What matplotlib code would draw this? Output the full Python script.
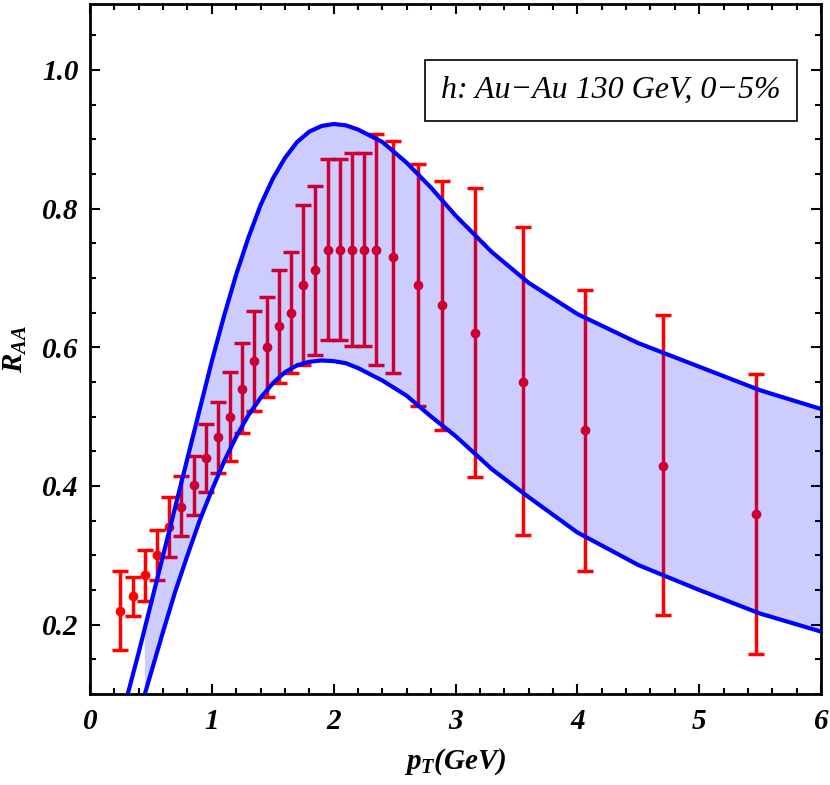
import numpy as np
import matplotlib
matplotlib.use("Agg")
import matplotlib.pyplot as plt

plt.rcParams['mathtext.fontset'] = 'custom'
plt.rcParams['mathtext.it'] = 'Liberation Serif:italic:bold'
plt.rcParams['mathtext.rm'] = 'Liberation Serif:italic:bold'
plt.rcParams['mathtext.bf'] = 'Liberation Serif:italic:bold'

pt = [0.25,0.35,0.45,0.55,0.65,0.75,0.85,0.95,1.05,1.15,1.25,1.35,1.45,1.55,1.65,1.75,1.85,1.95,2.05,2.15,2.25,2.35,2.49,2.69,2.89,3.16,3.55,4.06,4.70,5.47]
raa = [0.220,0.242,0.271,0.301,0.341,0.370,0.401,0.441,0.471,0.500,0.540,0.580,0.601,0.630,0.650,0.690,0.711,0.740,0.740,0.740,0.740,0.740,0.730,0.690,0.661,0.620,0.550,0.480,0.429,0.359]
err_hi = [0.278,0.269,0.307,0.337,0.384,0.414,0.443,0.490,0.521,0.565,0.606,0.653,0.673,0.711,0.737,0.805,0.833,0.871,0.871,0.880,0.880,0.907,0.897,0.864,0.840,0.829,0.773,0.683,0.647,0.562]
err_lo = [0.163,0.212,0.234,0.265,0.297,0.328,0.358,0.391,0.419,0.436,0.476,0.508,0.529,0.549,0.563,0.575,0.589,0.610,0.610,0.602,0.602,0.574,0.563,0.515,0.481,0.413,0.329,0.278,0.214,0.158]

up_x = [0.31,0.4,0.5,0.6,0.7,0.8,0.9,1.0,1.1,1.2,1.3,1.4,1.5,1.6,1.7,1.8,1.9,2.0,2.1,2.2,2.4,2.6,2.8,3.0,3.3,3.6,4.0,4.5,5.0,5.5,6.0]
up_y = [0.10,0.16,0.23,0.30,0.37,0.44,0.51,0.58,0.645,0.705,0.758,0.805,0.843,0.873,0.896,0.911,0.919,0.922,0.92,0.914,0.896,0.866,0.83,0.79,0.737,0.693,0.648,0.606,0.572,0.538,0.511]
lo_x = [0.45,0.5,0.6,0.7,0.8,0.9,1.0,1.1,1.2,1.3,1.4,1.5,1.6,1.7,1.8,1.9,2.0,2.1,2.2,2.4,2.6,2.8,3.0,3.3,3.6,4.0,4.5,5.0,5.5,6.0]
lo_y = [0.10,0.13,0.19,0.248,0.30,0.35,0.394,0.435,0.471,0.502,0.527,0.548,0.564,0.574,0.579,0.581,0.580,0.577,0.570,0.552,0.53,0.50,0.472,0.424,0.384,0.333,0.286,0.25,0.216,0.19]

xticks = [0, 1, 2, 3, 4, 5, 6]
yticks = [0.2, 0.4, 0.6, 0.8, 1.0]

fig = plt.figure(figsize=(8.3, 7.85), dpi=100)
ax = fig.add_axes([90/830, 91/785, 731/830, 690/785])

pt_a = np.array(pt); raa_a = np.array(raa)
yerr = [raa_a - np.array(err_lo), np.array(err_hi) - raa_a]
ax.errorbar(pt_a, raa_a, yerr=yerr, fmt='o', color='#ff0000', ms=6, lw=2.5,
            capsize=6, capthick=2.5, zorder=2)

ux = np.array(up_x); uy = np.array(up_y)
mask = ux >= 0.45
px = np.concatenate([[0.45], ux[mask], np.array(lo_x)[::-1]])
py = np.concatenate([[np.interp(0.45, ux, uy)], uy[mask], np.array(lo_y)[::-1]])
ax.fill(px, py, color='#0000ff', alpha=0.2, lw=0, zorder=3)
ax.plot(up_x, up_y, color='#0000ff', lw=3, zorder=4, solid_joinstyle='round')
ax.plot(lo_x, lo_y, color='#0000ff', lw=3, zorder=4, solid_joinstyle='round')

ax.set_xlim(0, 6)
ax.set_ylim(0.1, 1.095)
ax.set_xticks(xticks)
ax.set_xticks(np.arange(0, 6.01, 0.2), minor=True)
ax.set_yticks(yticks)
ax.set_yticks(np.arange(0.1, 1.1, 0.05), minor=True)
ax.tick_params(which='both', direction='in', top=True, right=True, width=1.5)
ax.tick_params(which='major', length=7)
ax.tick_params(which='minor', length=4)
for s in ax.spines.values():
    s.set_linewidth(2)

font = dict(family='Liberation Serif', style='italic', weight='bold', size=21)
ax.set_xticklabels([str(v) for v in xticks], fontdict=font)
ax.set_yticklabels(['%.1f' % v for v in yticks], fontdict=font)
ax.tick_params(axis='x', pad=10)
ax.tick_params(axis='y', pad=8)
ax.set_xlabel(r'$p_T$(GeV)', fontdict=font, labelpad=8)
ax.set_ylabel(r'$R_{AA}$', fontdict=font, labelpad=10)

ax.text(0.945, 0.875, 'h: Au\u2212Au 130 GeV, 0\u22125%', transform=ax.transAxes,
        ha='right', va='center', fontsize=23, family='Liberation Serif', style='italic',
        bbox=dict(boxstyle='square,pad=0.5', fc='white', ec='black', lw=1.2), zorder=5)

fig.savefig('out.png', dpi=100)
